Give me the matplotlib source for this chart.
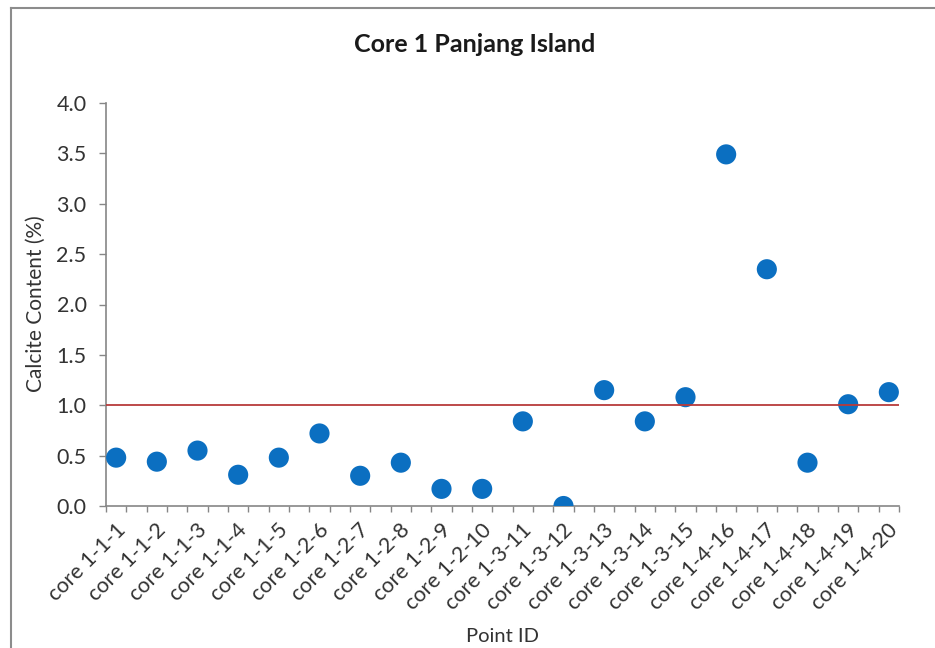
import matplotlib.pyplot as plt
from matplotlib.lines import Line2D
from matplotlib.transforms import ScaledTranslation
import numpy as np

point_ids = [
    "core 1-1-1", "core 1-1-2", "core 1-1-3", "core 1-1-4", "core 1-1-5",
    "core 1-2-6", "core 1-2-7", "core 1-2-8", "core 1-2-9", "core 1-2-10",
    "core 1-3-11", "core 1-3-12", "core 1-3-13", "core 1-3-14", "core 1-3-15",
    "core 1-4-16", "core 1-4-17", "core 1-4-18", "core 1-4-19", "core 1-4-20",
]
calcite = [0.48, 0.44, 0.55, 0.31, 0.48, 0.72, 0.30, 0.43, 0.17, 0.17,
           0.84, 0.00, 1.15, 0.84, 1.08, 3.49, 2.35, 0.43, 1.01, 1.13]
threshold = 1.0

plt.rcParams['font.family'] = ['Lato', 'DejaVu Sans']
axis_grey = '#868686'
text_col = '#333333'

fig = plt.figure(figsize=(9.35, 6.48), dpi=100)
ax = fig.add_axes([106 / 935, 1 - 506 / 648, 793 / 935, 403 / 648])

x = np.arange(1, len(calcite) + 1)
ax.scatter(x, calcite, s=210, color='#0B6FC1', edgecolors='none', zorder=3)
ax.axhline(threshold, color='#B83A3A', linewidth=1.3, zorder=4)

ax.set_xlim(0.75, len(calcite) + 0.25)
ax.set_ylim(0, 4.0)
ax.set_yticks(np.arange(0, 4.01, 0.5))
ax.set_yticklabels([f"{v:.1f}" for v in np.arange(0, 4.01, 0.5)])

ax.set_xticks(x)
ax.set_xticklabels(point_ids, rotation=45, ha='right', va='center',
                   rotation_mode='anchor')
ax.set_xticks(np.arange(0.75, len(calcite) + 0.26, 0.5), minor=True)
ax.tick_params(axis='x', which='major', length=0, pad=15, labelsize=15.5,
               labelcolor=text_col)
ax.tick_params(axis='x', which='minor', length=4.5, width=1, color=axis_grey,
               direction='out')
ax.tick_params(axis='y', length=5, width=1, color=axis_grey, pad=9,
               labelsize=15.5, labelcolor=text_col)

# nudge the slanted labels so they end just right of each point
shift = ScaledTranslation(6 / 100, 0, fig.dpi_scale_trans)
for lbl in ax.get_xticklabels():
    lbl.set_transform(lbl.get_transform() + shift)

for side in ['top', 'right']:
    ax.spines[side].set_visible(False)
for side in ['left', 'bottom']:
    ax.spines[side].set_color(axis_grey)
    ax.spines[side].set_linewidth(1.2)

ax.set_ylabel("Calcite Content (%)", fontsize=15, color=text_col)
ax.yaxis.set_label_coords(46 / 935, 1 - 304 / 648, transform=fig.transFigure)
fig.text(502 / 935, 1 - 636 / 648, "Point ID", fontsize=14.5, color=text_col,
         ha='center', va='center')
fig.text(475 / 935, 1 - 52 / 648, "Core 1 Panjang Island", fontsize=18,
         fontweight='bold', color='#1a1a1a', ha='center', va='baseline')

# chart frame
fig.add_artist(Line2D([11 / 935, 11 / 935], [0, 1 - 8 / 648],
                      transform=fig.transFigure, color='#8c8c8c', linewidth=1.5))
fig.add_artist(Line2D([11 / 935, 1], [1 - 8 / 648, 1 - 8 / 648],
                      transform=fig.transFigure, color='#8c8c8c', linewidth=1.5))

fig.savefig("out.png", dpi=100)
